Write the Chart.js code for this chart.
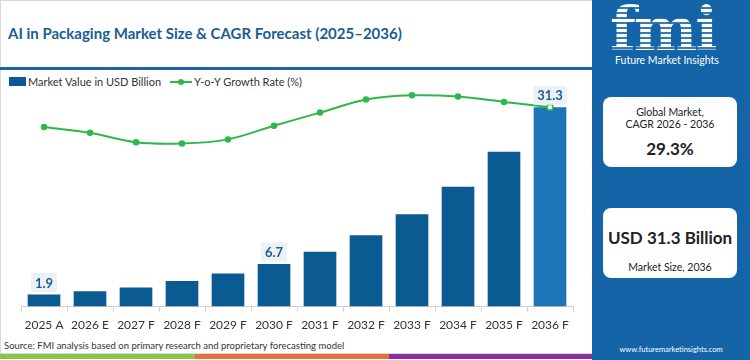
<!DOCTYPE html>
<html>
<head>
<meta charset="utf-8">
<script src="https://cdn.jsdelivr.net/npm/chart.js@4.4.1/dist/chart.umd.min.js"></script>
<style>
  html, body { margin: 0; padding: 0; background: #fff; }
  body { width: 750px; height: 360px; position: relative; overflow: hidden; font-family: Lato, sans-serif; }
  .left { position: absolute; left: 0; top: 0; width: 592px; height: 354px; border: 1px solid #d9d9d9; border-right: none; box-sizing: border-box; }
  .title { position: absolute; left: 8px; top: 24px; font: 700 15px Lato, sans-serif; color: #1a5d94; white-space: nowrap; }
  .rule { position: absolute; left: 0; top: 67px; width: 592px; height: 3px; background: #1b62a6; }
  .legend { position: absolute; left: 9px; top: 75px; font: 11px Lato, sans-serif; color: #333; white-space: nowrap; display: flex; align-items: center; }
  .sw-bar { display: inline-block; width: 17px; height: 9px; background: #0b5a92; margin-right: 2px; }
  .sw-line { display: inline-block; width: 22px; height: 2px; background: #2db84a; position: relative; margin: 0 2px 0 9px; }
  .sw-line::after { content: ""; position: absolute; left: 8px; top: -2px; width: 6px; height: 6px; border-radius: 50%; background: #2db84a; }
  #chartWrap { position: absolute; left: 0; top: 80px; width: 594px; height: 258px; }
  .source { position: absolute; left: 4px; top: 340px; font: 9.5px Lato, sans-serif; color: #333; white-space: nowrap; }
  .strip { position: absolute; top: 354px; height: 5px; }
  .panel { position: absolute; left: 592px; top: 0; width: 158px; height: 360px; background: #1464a7; }
  .logo { position: absolute; left: 18px; top: -6px; font: 700 60px "DejaVu Serif", serif; letter-spacing: -2px;
          background: repeating-linear-gradient(#ffffff 0 3px, rgba(255,255,255,0.15) 3px 5px);
          -webkit-background-clip: text; background-clip: text; color: transparent; }
  .brand { position: absolute; left: 23px; top: 54px; font: 10.5px Lato, sans-serif; color: #fff; white-space: nowrap; }
  .card { position: absolute; left: 11px; width: 134px; height: 70px; background: #fff; border-radius: 8px; text-align: center; color: #222; }
  .card .s { font: 10.5px Lato, sans-serif; line-height: 12px; white-space: nowrap; }
  .card .b { font: 700 17px Lato, sans-serif; white-space: nowrap; }
  .url { position: absolute; left: 0; width: 158px; top: 345px; text-align: center; font: 7.5px Lato, sans-serif; color: #fff; }
</style>
</head>
<body>
<div class="left"></div>
<div class="title">AI in Packaging Market Size &amp; CAGR Forecast (2025–2036)</div>
<div class="rule"></div>
<div class="legend"><span class="sw-bar"></span>Market Value in USD Billion<span class="sw-line"></span>Y-o-Y Growth Rate (%)</div>
<div id="chartWrap"><canvas id="chart"></canvas></div>
<div class="source">Source: FMI analysis based on primary research and proprietary forecasting model</div>
<div class="strip" style="left:0;width:195px;background:#8bc34a"></div>
<div class="strip" style="left:195px;width:194px;background:#e8703a"></div>
<div class="strip" style="left:389px;width:203px;background:#8e2f9e"></div>

<div class="panel">
  <div class="logo">fmi</div>
  <div class="brand">Future Market Insights</div>
  <div class="card" style="top:97px">
    <div class="s" style="margin-top:9px">Global Market,</div>
    <div class="s">CAGR 2026 - 2036</div>
    <div class="b" style="margin-top:8px">29.3%</div>
  </div>
  <div class="card" style="top:208px">
    <div class="b" style="margin-top:19px">USD 31.3 Billion</div>
    <div class="s" style="margin-top:13px">Market Size, 2036</div>
  </div>
  <div class="url">www.futuremarketinsights.com</div>
</div>

<script>
// Data
const years = ['2025 A', '2026 E', '2027 F', '2028 F', '2029 F', '2030 F', '2031 F', '2032 F', '2033 F', '2034 F', '2035 F', '2036 F'];
const marketValue = [1.9, 2.4, 3.0, 4.0, 5.2, 6.7, 8.6, 11.2, 14.5, 18.8, 24.3, 31.3];
const growthRate = [25.2, 24.2, 22.6, 22.4, 23.1, 25.4, 27.6, 29.8, 30.5, 30.3, 29.4, 28.5];
const labelledYears = ['2025 A', '2030 F', '2036 F'];

const barColors = years.map((y, i) => i === years.length - 1 ? '#1b75b6' : '#0b5a92');

// Value boxes above selected bars (bar dataset is index 1)
const valueBoxes = {
    id: 'valueBoxes',
    afterDatasetsDraw(chart) {
        const ctx = chart.ctx;
        const meta = chart.getDatasetMeta(1);
        ctx.save();
        ctx.font = '700 13px Lato, sans-serif';
        ctx.textAlign = 'center';
        ctx.textBaseline = 'middle';
        meta.data.forEach((bar, i) => {
            if (!labelledYears.includes(years[i])) return;
            const txt = marketValue[i].toFixed(1);
            const w = ctx.measureText(txt).width + 8;
            const h = 19;
            const cy = bar.y - 12;
            ctx.fillStyle = '#eef1f4';
            ctx.beginPath();
            ctx.roundRect(bar.x - w / 2, cy - h / 2, w, h, 2);
            ctx.fill();
            ctx.fillStyle = '#1a5d94';
            ctx.fillText(txt, bar.x, cy + 1);
        });
        ctx.restore();
    }
};

new Chart(document.getElementById('chart'), {
    type: 'bar',
    data: {
        labels: years,
        datasets: [
            {
                type: 'line',
                data: growthRate,
                yAxisID: 'y2',
                borderColor: '#2db84a',
                backgroundColor: '#2db84a',
                borderWidth: 2,
                tension: 0.3,
                pointRadius: growthRate.map((v, i) => i === growthRate.length - 1 ? 3 : 2.5),
                pointBackgroundColor: growthRate.map((v, i) => i === growthRate.length - 1 ? '#ffffff' : '#2db84a'),
                pointBorderColor: '#2db84a',
                pointBorderWidth: 1.5,
                clip: false,
                order: 0
            },
            {
                data: marketValue,
                backgroundColor: barColors,
                barPercentage: 0.71,
                categoryPercentage: 1,
                order: 1
            }
        ]
    },
    options: {
        responsive: true,
        maintainAspectRatio: false,
        animation: false,
        layout: { padding: { top: 10, left: 21, right: 21, bottom: 0 } },
        plugins: { legend: { display: false }, tooltip: { enabled: false } },
        scales: {
            x: {
                grid: { display: true, drawOnChartArea: false, drawTicks: true, tickLength: 5, color: '#d0d0d0' },
                border: { display: true, color: '#d0d0d0' },
                ticks: { color: '#333', padding: 6, maxRotation: 0, minRotation: 0, autoSkip: false,
                         font: { family: 'Lato, sans-serif', size: 12 } }
            },
            y: { display: false, min: 0, max: 34 },
            y2: { display: false, min: -5, max: 31.4 }
        }
    },
    plugins: [valueBoxes]
});
</script>
</body>
</html>
